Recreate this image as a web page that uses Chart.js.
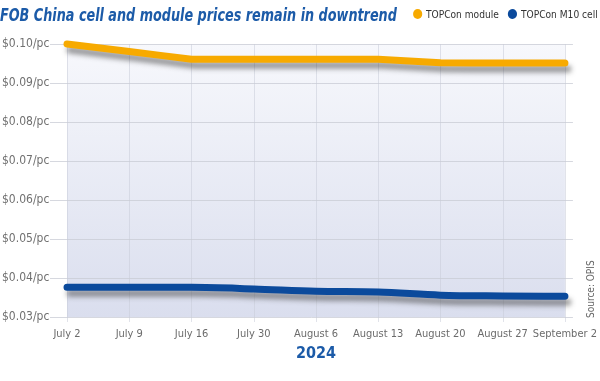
<!DOCTYPE html>
<html>
<head>
<meta charset="utf-8">
<script src="https://cdn.jsdelivr.net/npm/chart.js@4/dist/chart.umd.min.js"></script>
<style>
  html, body { margin: 0; padding: 0; background: #fff; }
  #wrap { position: relative; width: 600px; height: 381px; overflow: hidden;
          font-family: 'DejaVu Sans Condensed', 'Roboto', sans-serif; }
  #title { position: absolute; left: 0; top: 4px; font-size: 18px; font-weight: bold; font-style: italic;
           color: #1c5ba8; white-space: nowrap; transform: scaleX(0.79); transform-origin: 0 0; }
  #legend { position: absolute; right: 2px; top: 8px; font-size: 11px; color: #333; white-space: nowrap;
            transform: scaleX(0.92); transform-origin: 100% 0; }
  #legend span.item { display: inline-block; margin-left: 10px; }
  #legend span.dot { display: inline-block; width: 10px; height: 10px; border-radius: 50%; vertical-align: -1px; margin-right: 4px; }
  #source { position: absolute; left: 585px; top: 318px; font-size: 10px; color: #666;
            transform: rotate(-90deg); transform-origin: 0 0; white-space: nowrap; }
  canvas { position: absolute; left: 0; top: 0; }
</style>
</head>
<body>
<div id="wrap">
  <canvas id="c" width="600" height="381"></canvas>
  <div id="title">FOB China cell and module prices remain in downtrend</div>
  <div id="legend"></div>
  <div id="source">Source: OPIS</div>
</div>
<script>
const categories = ['July 2', 'July 9', 'July 16', 'July 30', 'August 6', 'August 13', 'August 20', 'August 27', 'September 2'];
const moduleValues = [0.1000, 0.0981, 0.0961, 0.0961, 0.0961, 0.0961, 0.0952, 0.0951, 0.0951];
const cellValues = [0.0376, 0.0376, 0.0376, 0.0372, 0.0366, 0.0364, 0.0356, 0.0354, 0.0353];
const seriesNames = ['TOPCon module', 'TOPCon M10 cell'];
const seriesColors = ['#f7aa00', '#0b4a9c'];
const axisTitle = '2024';

const FONT = "'DejaVu Sans Condensed', 'Roboto', sans-serif";

const legendEl = document.getElementById('legend');
seriesNames.forEach((n, i) => {
  const it = document.createElement('span');
  it.className = 'item';
  const d = document.createElement('span');
  d.className = 'dot';
  d.style.background = seriesColors[i];
  it.appendChild(d);
  it.appendChild(document.createTextNode(n));
  legendEl.appendChild(it);
});

const bgPlugin = {
  id: 'bgFill',
  beforeDatasetsDraw(chart) {
    const {ctx, chartArea, scales} = chart;
    const x0 = scales.x.getPixelForValue(0);
    const x1 = scales.x.getPixelForValue(categories.length - 1);
    const g = ctx.createLinearGradient(0, chartArea.top, 0, chartArea.bottom);
    g.addColorStop(0, 'rgba(247,248,252,1)');
    g.addColorStop(1, 'rgba(218,222,238,1)');
    ctx.save();
    ctx.fillStyle = g;
    ctx.fillRect(x0, chartArea.top, x1 - x0, chartArea.bottom - chartArea.top);
    ctx.strokeStyle = 'rgba(200,204,216,0.55)';
    ctx.lineWidth = 1;
    for (let i = 0; i < categories.length; i++) {
      const x = Math.round(scales.x.getPixelForValue(i)) + 0.5;
      ctx.beginPath(); ctx.moveTo(x, chartArea.top); ctx.lineTo(x, chartArea.bottom + 5); ctx.stroke();
    }
    ctx.strokeStyle = 'rgba(200,203,212,0.75)';
    scales.y.ticks.forEach(t => {
      const y = Math.round(scales.y.getPixelForValue(t.value)) + 0.5;
      ctx.beginPath(); ctx.moveTo(chartArea.left - 17, y); ctx.lineTo(chartArea.right + 8, y); ctx.stroke();
    });
    ctx.restore();
  },
  beforeDatasetDraw(chart) {
    const ctx = chart.ctx;
    ctx.save();
    ctx.shadowColor = 'rgba(60,60,60,0.5)';
    ctx.shadowBlur = 5;
    ctx.shadowOffsetX = 3;
    ctx.shadowOffsetY = 6;
  },
  afterDatasetDraw(chart) {
    chart.ctx.restore();
  }
};

new Chart(document.getElementById('c'), {
  type: 'line',
  data: {
    labels: categories,
    datasets: [
      { label: seriesNames[0], data: moduleValues, borderColor: seriesColors[0], backgroundColor: seriesColors[0],
        borderWidth: 7, pointRadius: 0, tension: 0.05, borderCapStyle: 'round', borderJoinStyle: 'round', clip: false },
      { label: seriesNames[1], data: cellValues, borderColor: seriesColors[1], backgroundColor: seriesColors[1],
        borderWidth: 7, pointRadius: 0, cubicInterpolationMode: 'monotone', borderCapStyle: 'round', borderJoinStyle: 'round', clip: false }
    ]
  },
  options: {
    responsive: false,
    animation: false,
    layout: { padding: { left: 2, right: 26, top: 44, bottom: 0 } },
    plugins: { legend: { display: false }, tooltip: { enabled: false } },
    scales: {
      x: {
        type: 'category',
        offset: false,
        grid: { display: false },
        border: { display: false },
        ticks: { color: '#6b6b6b', font: { family: FONT, size: 11 }, padding: 3, maxRotation: 0, autoSkip: false },
        title: { display: true, text: axisTitle, color: '#1c5ba8', font: { family: FONT, size: 16, weight: 'bold' }, padding: { top: 0, bottom: 18 } },
        afterFit(scale) { scale.height = 64; }
      },
      y: {
        min: 0.03, max: 0.10,
        grid: { display: false },
        border: { display: false },
        ticks: { stepSize: 0.01, color: '#707070', crossAlign: 'far', padding: 4,
                 font: { family: FONT, size: 12 },
                 callback: v => '$' + Number(v).toFixed(2) + '/pc' },
        afterFit(scale) { scale.width = 65; }
      }
    }
  },
  plugins: [bgPlugin]
});
</script>
</body>
</html>
